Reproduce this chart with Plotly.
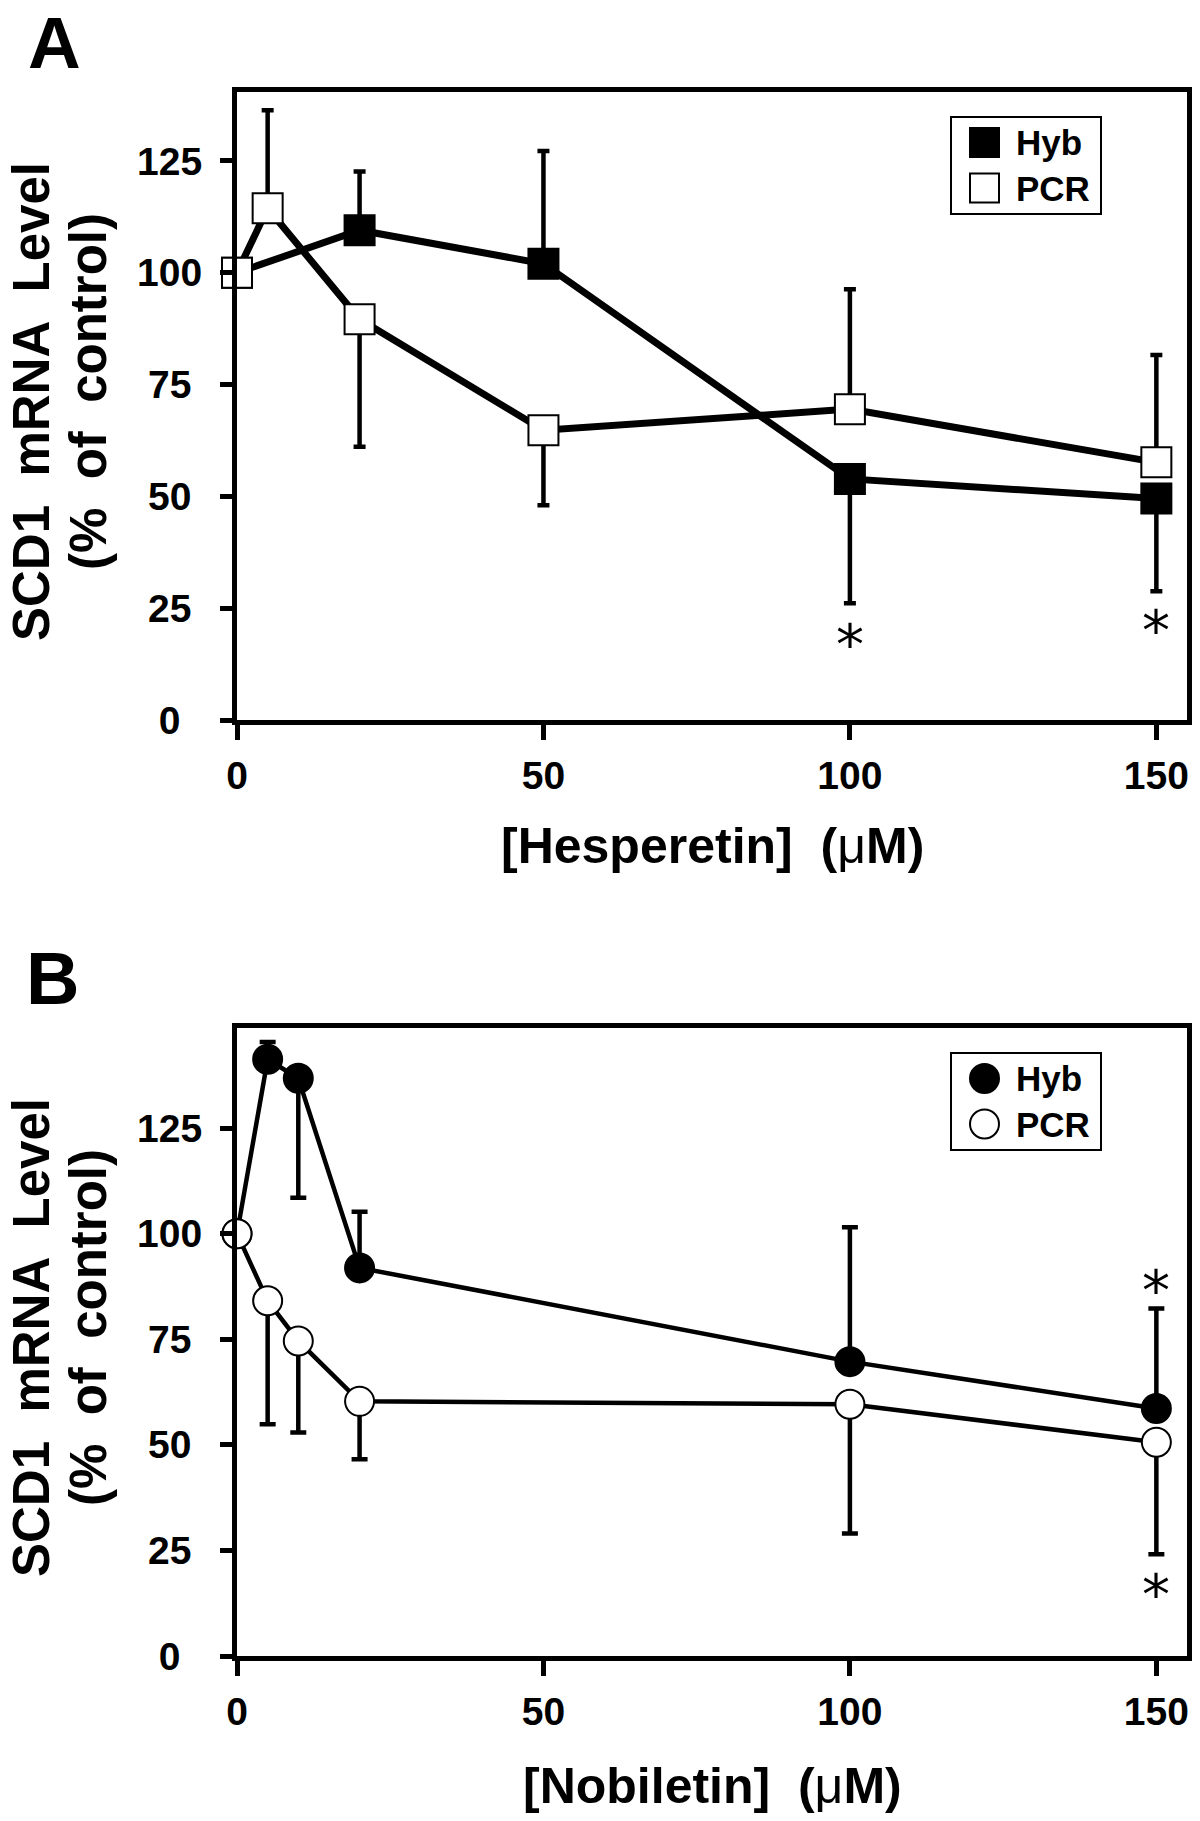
import plotly.graph_objects as go

W, H = 1200, 1821
FONT = "Liberation Sans, Arial, Helvetica, sans-serif"

# ---------------- data ----------------
# Panel A: Hesperetin
hes_hyb_x = [0, 20, 50, 100, 150]
hes_hyb = [100, 109.5, 102.0, 53.9, 49.5]
hes_hyb_up = [0, 13.1, 25.2, 0, 0]
hes_hyb_dn = [0, 0, 0, 27.8, 20.7]
hes_pcr_x = [0, 5, 20, 50, 100, 150]
hes_pcr = [100, 114.4, 89.6, 64.8, 69.5, 57.6]
hes_pcr_up = [0, 21.9, 0, 0, 26.8, 24.0]
hes_pcr_dn = [0, 0, 28.5, 16.8, 0, 0]
hes_sig_x = [100, 150]
hes_sig_y = [18.8, 22.0]

# Panel B: Nobiletin
nob_x = [0, 5, 10, 20, 100, 150]
nob_hyb = [100, 141.3, 136.8, 91.9, 69.7, 58.6]
nob_hyb_up = [0, 4.1, 0, 13.3, 31.8, 23.7]
nob_hyb_dn = [0, 0, 28.3, 0, 0, 0]
nob_pcr = [100, 84.1, 74.6, 60.3, 59.6, 50.6]
nob_pcr_up = [0, 0, 0, 0, 0, 0]
nob_pcr_dn = [0, 29.2, 21.7, 13.7, 30.6, 26.5]
nob_sig_x = [150, 150]
nob_sig_y = [88.7, 16.6]

x_ticks = [0, 50, 100, 150]
y_ticks = [0, 25, 50, 75, 100, 125]
series_names = ["Hyb", "PCR"]
y_title_1 = "SCD1\u00a0\u00a0mRNA\u00a0\u00a0Level"
y_title_2 = "(%\u00a0\u00a0of\u00a0\u00a0control)"
x_title_a = "[Hesperetin]\u00a0\u00a0(<span style='font-weight:normal'>\u03bc</span>M)"
x_title_b = "[Nobiletin]\u00a0\u00a0(<span style='font-weight:normal'>\u03bc</span>M)"


def px(x):
    return x / W


def py(y):
    return 1 - y / H


def pad_label(v):
    s = str(v)
    return s + "\u00a0" * (3 - len(s))


fig = go.Figure()


def add_series(x, y, up, dn, symbol, fill, lw, msize, cap, xa, ya):
    fig.add_trace(go.Scatter(
        x=x, y=y, mode="lines+markers", xaxis=xa, yaxis=ya,
        line=dict(color="black", width=lw),
        marker=dict(symbol=symbol, size=msize, color=fill,
                    line=dict(color="black", width=2)),
        error_y=dict(type="data", symmetric=False, array=up, arrayminus=dn,
                     color="black", thickness=4.5, width=cap),
        cliponaxis=False, showlegend=False,
    ))


add_series(hes_hyb_x, hes_hyb, hes_hyb_up, hes_hyb_dn, "square", "black", 7, 30, 6, "x", "y")
add_series(hes_pcr_x, hes_pcr, hes_pcr_up, hes_pcr_dn, "square", "white", 7, 30, 6, "x", "y")
add_series(nob_x, nob_hyb, nob_hyb_up, nob_hyb_dn, "circle", "black", 4.5, 29, 8, "x2", "y2")
add_series(nob_x, nob_pcr, nob_pcr_up, nob_pcr_dn, "circle", "white", 4.5, 29, 8, "x2", "y2")

# domains (pixels)
LEFT, RIGHT = 237, 1187
A_TOP, A_BOT = 92, 720
B_TOP, B_BOT = 1028, 1656

axis_common = dict(showline=True, linewidth=5, linecolor="black", mirror=True,
                   showgrid=False, zeroline=False, ticks="outside",
                   tickwidth=5, tickcolor="black", automargin=False,
                   tickfont=dict(family=FONT, size=39, color="black", weight="bold"))

xcommon = dict(axis_common, range=[0, 155], tickmode="array", tickvals=x_ticks,
               ticktext=[str(v) for v in x_ticks], ticklen=15, ticklabelstandoff=2,
               domain=[px(LEFT), px(RIGHT)])
ycommon = dict(axis_common, tickmode="array", tickvals=y_ticks,
               ticktext=[pad_label(v) for v in y_ticks], ticklen=12,
               ticklabelstandoff=10)

fig.update_layout(
    width=W, height=H, margin=dict(l=0, r=0, t=0, b=0, autoexpand=False),
    paper_bgcolor="white", plot_bgcolor="white",
    font=dict(family=FONT, color="black"),
    xaxis=dict(xcommon, anchor="y"),
    yaxis=dict(ycommon, anchor="x", range=[0, 140.4], domain=[py(A_BOT), py(A_TOP)]),
    xaxis2=dict(xcommon, anchor="y2"),
    yaxis2=dict(ycommon, anchor="x2", range=[0, 148.7], domain=[py(B_BOT), py(B_TOP)]),
)

ann = []
# panel letters
ann.append(dict(text="A", x=px(26), y=py(0), xref="paper", yref="paper",
                xanchor="left", yanchor="top", showarrow=False,
                font=dict(family=FONT, size=73, weight="bold")))
ann.append(dict(text="B", x=px(24), y=py(978), xref="paper", yref="paper",
                xanchor="left", yanchor="middle", showarrow=False,
                font=dict(family=FONT, size=74, weight="bold")))
# y titles (two separately placed lines, tighter than default line spacing)
for yc in [(A_TOP + A_BOT) / 2 - 4, (B_TOP + B_BOT) / 2 - 4]:
    ann.append(dict(text=y_title_1, x=px(31), y=py(yc), xref="paper", yref="paper",
                    xanchor="center", yanchor="middle", textangle=-90, showarrow=False,
                    font=dict(family=FONT, size=51, weight="bold")))
    ann.append(dict(text=y_title_2, x=px(88), y=py(yc - 10), xref="paper", yref="paper",
                    xanchor="center", yanchor="middle", textangle=-90, showarrow=False,
                    font=dict(family=FONT, size=51, weight="bold")))
# x titles
ann.append(dict(text=x_title_a, x=px((LEFT + RIGHT) / 2), y=py(846), xref="paper", yref="paper",
                xanchor="center", yanchor="middle", showarrow=False,
                font=dict(family=FONT, size=50, weight="bold")))
ann.append(dict(text=x_title_b, x=px((LEFT + RIGHT) / 2), y=py(1786), xref="paper", yref="paper",
                xanchor="center", yanchor="middle", showarrow=False,
                font=dict(family=FONT, size=50, weight="bold")))
# significance asterisks
for xs, ys, xr, yr in [(hes_sig_x, hes_sig_y, "x", "y"), (nob_sig_x, nob_sig_y, "x2", "y2")]:
    for xv, yv in zip(xs, ys):
        ann.append(dict(text="*", x=xv, y=yv, xref=xr, yref=yr, xanchor="center",
                        yanchor="middle", yshift=-9, showarrow=False,
                        font=dict(family="DejaVu Sans", size=56, color="black")))

# custom legends (box + large marker glyphs + labels)
shapes = []
for top, kind in [(117, "square"), (1053, "circle")]:
    shapes.append(dict(type="rect", xref="paper", yref="paper",
                       x0=px(951), x1=px(1101), y0=py(top), y1=py(top + 97),
                       line=dict(color="black", width=2), fillcolor="white", layer="above"))
    for i, fill in enumerate(["black", "white"]):
        cy = top + 25.5 + 45.5 * i
        shapes.append(dict(type="rect" if kind == "square" else "circle",
                           xref="paper", yref="paper",
                           x0=px(970), x1=px(999), y0=py(cy - 14.5), y1=py(cy + 14.5),
                           line=dict(color="black", width=2), fillcolor=fill, layer="above"))
        ann.append(dict(text=series_names[i], x=px(1014), y=py(cy), xref="paper", yref="paper",
                        xanchor="left", yanchor="middle", showarrow=False,
                        font=dict(family=FONT, size=35, weight="bold")))

fig.update_layout(annotations=ann, shapes=shapes)
fig.write_html("out.html",
               config={"displayModeBar": False},
               post_script="document.body.style.margin='0px';"
                           "document.body.style.overflow='hidden';")
